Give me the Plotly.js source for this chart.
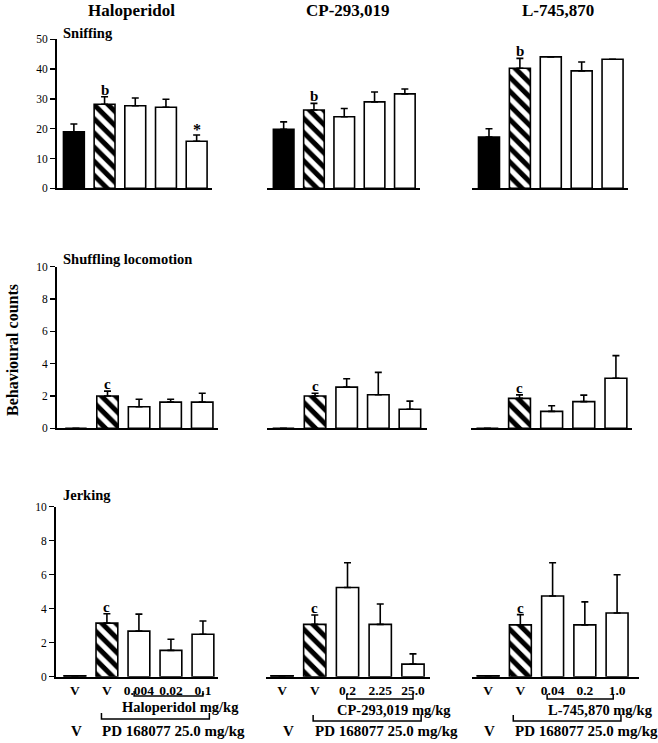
<!DOCTYPE html>
<html>
<head>
<meta charset="utf-8">
<script src="https://cdn.plot.ly/plotly-3.0.1.min.js"></script>
<style>html,body{margin:0;padding:0;background:#fff;}#chart{width:658px;height:743px;}</style>
</head>
<body>
<div id="chart"></div>
<script>
// ---- Data ----
const drugs = ['Haloperidol', 'CP-293,019', 'L-745,870'];
const behaviours = ['Sniffing', 'Shuffling locomotion', 'Jerking'];
const haloLabels = ['V', 'V', '0.004', '0.02', '0.1'];
const cpLabels = ['V', 'V', '0.2', '2.25', '25.0'];
const lLabels = ['V', 'V', '0.04', '0.2', '1.0'];

const sniffHalo = [19.0, 28.2, 27.7, 27.2, 15.8];
const sniffHaloErr = [2.6, 2.5, 2.6, 2.7, 2.1];
const sniffCP = [19.8, 26.3, 24.0, 29.0, 31.7];
const sniffCPErr = [2.5, 2.2, 2.8, 3.3, 1.6];
const sniffL = [17.2, 40.3, 44.1, 39.4, 43.3];
const sniffLErr = [2.8, 3.3, NaN, 3.0, NaN];

const shufHalo = [0, 2.0, 1.33, 1.62, 1.62];
const shufHaloErr = [NaN, 0.3, 0.47, 0.18, 0.55];
const shufCP = [0, 2.0, 2.55, 2.08, 1.18];
const shufCPErr = [NaN, 0.17, 0.52, 1.38, 0.5];
const shufL = [0, 1.85, 1.05, 1.65, 3.1];
const shufLErr = [NaN, 0.22, 0.35, 0.4, 1.4];

const jerkHalo = [0.05, 3.15, 2.68, 1.55, 2.5];
const jerkHaloErr = [NaN, 0.55, 1.0, 0.65, 0.78];
const jerkCP = [0.05, 3.08, 5.25, 3.08, 0.74];
const jerkCPErr = [NaN, 0.55, 1.45, 1.2, 0.6];
const jerkL = [0.05, 3.05, 4.75, 3.05, 3.75];
const jerkLErr = [NaN, 0.6, 1.95, 1.35, 2.25];

const sniffMarks = [['', 'b', '', '', '*'], ['', 'b', '', '', ''], ['', 'b', '', '', '']];
const shufMarks = [['', 'c', '', '', ''], ['', 'c', '', '', ''], ['', 'c', '', '', '']];
const jerkMarks = [['', 'c', '', '', ''], ['', 'c', '', '', ''], ['', 'c', '', '', '']];

const yMax = [50, 10, 10];
const yTicks = [[0, 10, 20, 30, 40, 50], [0, 2, 4, 6, 8, 10], [0, 2, 4, 6, 8, 10]];
const barFill = ['black', 'white', 'white', 'white', 'white'];
const hatchedIndex = 1;

// ---- Layout geometry (pixels) ----
const W = 658, H = 743;
const px = v => v / W;
const py = v => 1 - v / H;
const rowY = [[188.3, 39.3], [428.3, 266.7], [676.7, 506.7]];
const cellX = [
  [[57, 212], [267, 420], [472, 628]],
  [[57, 218], [267, 427], [471, 632]],
  [[56, 218], [266, 430], [472, 639]]
];
const cellRange = [
  [[-0.55, 4.5], [-0.55, 4.5], [-0.55, 4.5]],
  [[-0.6, 4.5], [-0.52, 4.54], [-0.51, 4.5]],
  [[-0.59, 4.47], [-0.49, 4.52], [-0.5, 4.68]]
];

const values = [[sniffHalo, sniffCP, sniffL], [shufHalo, shufCP, shufL], [jerkHalo, jerkCP, jerkL]];
const errs = [[sniffHaloErr, sniffCPErr, sniffLErr], [shufHaloErr, shufCPErr, shufLErr], [jerkHaloErr, jerkCPErr, jerkLErr]];
const marks = [sniffMarks, shufMarks, jerkMarks];
const labels = [haloLabels, cpLabels, lLabels];

const FONT = 'Liberation Serif, Times New Roman, serif';
const traces = [];
const layout = {
  width: W, height: H,
  margin: {l: 0, r: 0, t: 0, b: 0},
  paper_bgcolor: 'white', plot_bgcolor: 'rgba(0,0,0,0)',
  showlegend: false,
  barmode: 'overlay',
  font: {family: FONT, color: 'black'},
  annotations: [], shapes: []
};

for (let r = 0; r < 3; r++) {
  for (let c = 0; c < 3; c++) {
    const n = r * 3 + c + 1;
    const xk = 'x' + (n === 1 ? '' : n), yk = 'y' + (n === 1 ? '' : n);
    const vals = values[r][c], er = errs[r][c];
    const idx = [0, 1, 2, 3, 4];
    const plainIdx = idx.filter(i => i !== hatchedIndex);
    const errBar = list => ({type: 'data', symmetric: false, array: list.map(i => er[i]),
      arrayminus: list.map(() => 0), color: 'black', thickness: 1.6, width: 3.5});
    traces.push({
      type: 'bar', x: plainIdx, y: plainIdx.map(i => vals[i]), width: 0.68,
      xaxis: xk, yaxis: yk,
      marker: {color: plainIdx.map(i => barFill[i]), line: {color: 'black', width: 1.6}},
      error_y: errBar(plainIdx),
      hoverinfo: 'skip'
    });
    traces.push({
      type: 'bar', x: [hatchedIndex], y: [vals[hatchedIndex]], width: 0.68,
      xaxis: xk, yaxis: yk,
      marker: {color: 'white', line: {color: 'black', width: 1.6},
        pattern: {shape: '\\', fgcolor: 'black', bgcolor: 'white', fgopacity: 1,
          size: 10, solidity: 0.5, fillmode: 'replace'}},
      error_y: errBar([hatchedIndex]),
      hoverinfo: 'skip'
    });
    layout['xaxis' + (n === 1 ? '' : n)] = {
      domain: [px(cellX[r][c][0]), px(cellX[r][c][1])],
      range: cellRange[r][c], anchor: yk,
      showline: true, linewidth: 2, linecolor: 'black',
      ticks: '', showgrid: false, zeroline: false,
      tickmode: 'array', tickvals: idx, ticktext: labels[c],
      showticklabels: r === 2,
      tickfont: {family: FONT, size: 13.5, color: 'black', weight: 'bold'},
      fixedrange: true
    };
    layout['yaxis' + (n === 1 ? '' : n)] = {
      domain: [py(rowY[r][0]), py(rowY[r][1])],
      range: [0, yMax[r]], anchor: xk,
      visible: c === 0,
      showline: true, linewidth: 2, linecolor: 'black',
      ticks: 'outside', ticklen: 5, tickwidth: 1.5, tickcolor: 'black',
      tickmode: 'array', tickvals: yTicks[r],
      tickfont: {family: FONT, size: 11.5, color: 'black'},
      showgrid: false, zeroline: false, fixedrange: true
    };
    // significance letters
    marks[r][c].forEach((m, i) => {
      if (!m) return;
      const top = vals[i] + (isNaN(er[i]) ? 0 : er[i]);
      layout.annotations.push({
        xref: xk, yref: yk, x: i, y: top, yanchor: 'bottom', xanchor: 'center',
        text: '<b>' + m + '</b>', showarrow: false, yshift: m === '*' ? -5 : -3,
        font: {family: FONT, size: m === '*' ? 16 : 15, color: 'black'}
      });
    });
  }
}

// Column titles
const titleX = [131, 347.5, 557.5];
drugs.forEach((d, i) => layout.annotations.push({
  xref: 'paper', yref: 'paper', x: px(titleX[i]), y: py(10), xanchor: 'center', yanchor: 'middle',
  text: '<b>' + d + '</b>', showarrow: false, font: {family: FONT, size: 17, color: 'black'}
}));
// Behaviour subtitles
const subY = [33, 259, 495];
behaviours.forEach((b, i) => layout.annotations.push({
  xref: 'paper', yref: 'paper', x: px(61), y: py(subY[i]), xanchor: 'left', yanchor: 'middle',
  text: '<b>' + b + '</b>', showarrow: false, font: {family: FONT, size: 14.5, color: 'black'}
}));
// Y title
layout.annotations.push({
  xref: 'paper', yref: 'paper', x: px(12), y: py(350), xanchor: 'center', yanchor: 'middle',
  text: '<b>Behavioural counts</b>', textangle: -90, showarrow: false,
  font: {family: FONT, size: 16, color: 'black'}
});

// Dose brackets and labels under bottom row
const drugText = ['Haloperidol mg/kg', 'CP-293,019 mg/kg', 'L-745,870 mg/kg'];
const drugTextX = [120, 335, 546];
const drugTextY = [707, 710, 710];
const br1Y = [696, 699, 699];
const br2Y = [719, 721, 721];
const vX = [76, 288, 489];
const pdX = [100, 313, 513];
const br1 = [[1.85, 4.0], [1.98, 4.0], [1.83, 3.88]];
const br2 = [[0.83, 4.2], [0.95, 4.25], [0.78, 4.12]];
for (let c = 0; c < 3; c++) {
  const n = 6 + c + 1;
  const xk = 'x' + n;
  const b1 = br1Y[c], b2 = br2Y[c];
  layout.shapes.push({
    type: 'path', xref: xk, yref: 'paper',
    path: `M ${br1[c][0]},${py(b1 - 5)} L ${br1[c][0]},${py(b1)} L ${br1[c][1]},${py(b1)} L ${br1[c][1]},${py(b1 - 5)}`,
    line: {color: 'black', width: 1.5}
  });
  layout.shapes.push({
    type: 'path', xref: xk, yref: 'paper',
    path: `M ${br2[c][0]},${py(b2 - 6)} L ${br2[c][0]},${py(b2)} L ${br2[c][1]},${py(b2)} L ${br2[c][1]},${py(b2 - 6)}`,
    line: {color: 'black', width: 1.5}
  });
  layout.annotations.push({
    xref: 'paper', yref: 'paper', x: px(drugTextX[c]), y: py(drugTextY[c]), xanchor: 'left', yanchor: 'middle',
    text: '<b>' + drugText[c] + '</b>', showarrow: false, font: {family: FONT, size: 14.5, color: 'black'}
  });
  layout.annotations.push({
    xref: 'paper', yref: 'paper', x: px(vX[c]), y: py(731), xanchor: 'center', yanchor: 'middle',
    text: '<b>V</b>', showarrow: false, font: {family: FONT, size: 15, color: 'black'}
  });
  layout.annotations.push({
    xref: 'paper', yref: 'paper', x: px(pdX[c]), y: py(731), xanchor: 'left', yanchor: 'middle',
    text: '<b>PD 168077 25.0 mg/kg</b>', showarrow: false, font: {family: FONT, size: 15, color: 'black'}
  });
}

Plotly.newPlot('chart', traces, layout, {staticPlot: true, displayModeBar: false});
</script>
</body>
</html>
